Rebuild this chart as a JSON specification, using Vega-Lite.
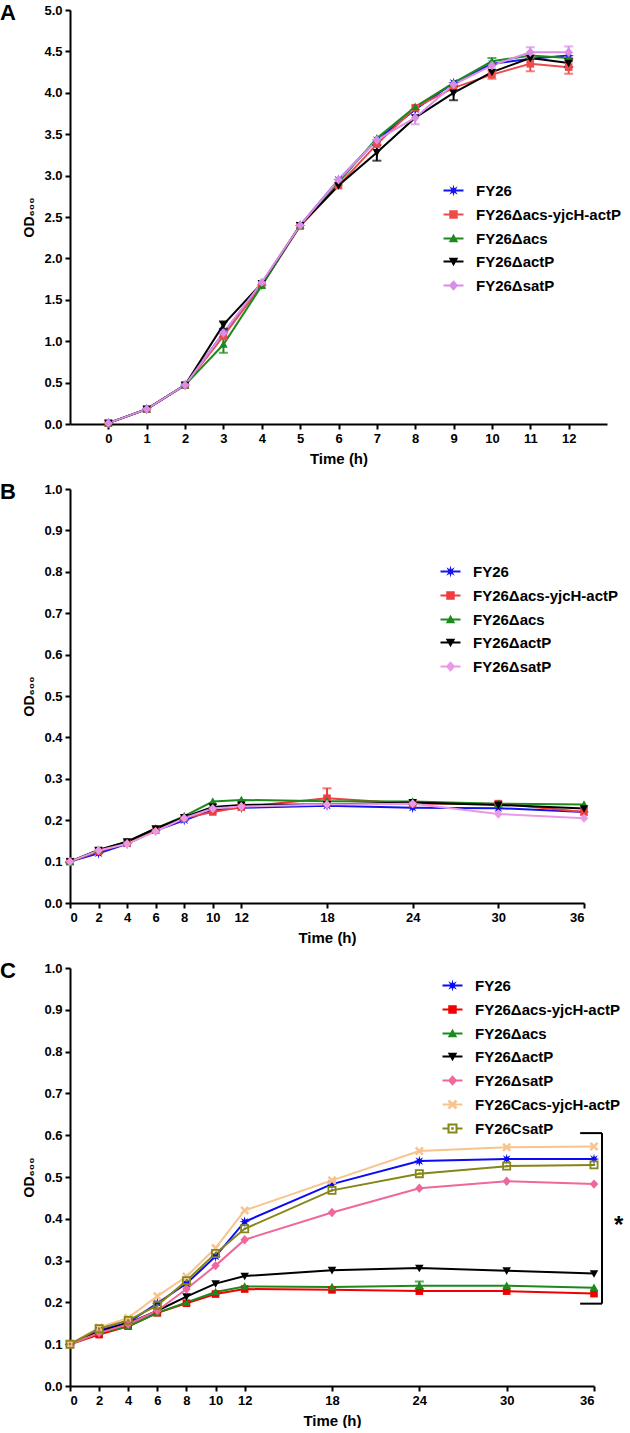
{
  "$schema": "https://vega.github.io/schema/vega-lite/v6.json",
  "background": "white",
  "padding": {"left": 0, "top": 2, "right": 0, "bottom": 0},
  "spacing": 15,
  "resolve": {"scale": {"fill": "independent", "stroke": "independent", "shape": "independent", "color": "independent", "x": "independent", "y": "independent"}, "legend": {"fill": "independent", "shape": "independent", "stroke": "independent", "color": "independent"}},
  "config": {
    "view": {"stroke": null},
    "font": "Liberation Sans",
    "axis": {"domainColor": "black", "domainWidth": 2, "tickColor": "black", "tickWidth": 2, "tickSize": 5, "labelFont": "Liberation Sans", "labelFontWeight": "bold", "labelFontSize": 13, "labelColor": "black", "labelPadding": 3, "titleFont": "Liberation Sans", "titleFontWeight": "bold", "titleFontSize": 15, "titleColor": "black", "grid": false},
    "axisX": {"titlePadding": 6},
    "axisY": {"titlePadding": 7, "titleFontSize": 14},
    "legend": {"labelFont": "Liberation Sans", "labelFontWeight": "bold", "labelFontSize": 15, "labelColor": "black", "symbolSize": 100, "labelOffset": 15, "rowPadding": 7, "padding": 0, "labelLimit": 300},
    "title": {"font": "Liberation Sans", "fontSize": 22, "fontWeight": "bold", "color": "black", "anchor": "start", "frame": "group", "dx": -70, "offset": -21}
  },
  "datasets": {
    "A": [
      {"strain": "FY26", "time": 0, "od": 0.01}, {"strain": "FY26", "time": 1, "od": 0.18}, {"strain": "FY26", "time": 2, "od": 0.47}, {"strain": "FY26", "time": 3, "od": 1.10}, {"strain": "FY26", "time": 4, "od": 1.68}, {"strain": "FY26", "time": 5, "od": 2.40}, {"strain": "FY26", "time": 6, "od": 2.95}, {"strain": "FY26", "time": 7, "od": 3.43}, {"strain": "FY26", "time": 8, "od": 3.80}, {"strain": "FY26", "time": 9, "od": 4.12}, {"strain": "FY26", "time": 10, "od": 4.35}, {"strain": "FY26", "time": 11, "od": 4.41}, {"strain": "FY26", "time": 12, "od": 4.45},
      {"strain": "FY26Δacs-yjcH-actP", "time": 0, "od": 0.01}, {"strain": "FY26Δacs-yjcH-actP", "time": 1, "od": 0.18}, {"strain": "FY26Δacs-yjcH-actP", "time": 2, "od": 0.47}, {"strain": "FY26Δacs-yjcH-actP", "time": 3, "od": 1.06}, {"strain": "FY26Δacs-yjcH-actP", "time": 4, "od": 1.68}, {"strain": "FY26Δacs-yjcH-actP", "time": 5, "od": 2.39}, {"strain": "FY26Δacs-yjcH-actP", "time": 6, "od": 2.88}, {"strain": "FY26Δacs-yjcH-actP", "time": 7, "od": 3.38}, {"strain": "FY26Δacs-yjcH-actP", "time": 8, "od": 3.82}, {"strain": "FY26Δacs-yjcH-actP", "time": 9, "od": 4.06}, {"strain": "FY26Δacs-yjcH-actP", "time": 10, "od": 4.22}, {"strain": "FY26Δacs-yjcH-actP", "time": 11, "od": 4.35}, {"strain": "FY26Δacs-yjcH-actP", "time": 12, "od": 4.31},
      {"strain": "FY26Δacs", "time": 0, "od": 0.01}, {"strain": "FY26Δacs", "time": 1, "od": 0.18}, {"strain": "FY26Δacs", "time": 2, "od": 0.47}, {"strain": "FY26Δacs", "time": 3, "od": 0.96}, {"strain": "FY26Δacs", "time": 4, "od": 1.67}, {"strain": "FY26Δacs", "time": 5, "od": 2.40}, {"strain": "FY26Δacs", "time": 6, "od": 2.92}, {"strain": "FY26Δacs", "time": 7, "od": 3.45}, {"strain": "FY26Δacs", "time": 8, "od": 3.83}, {"strain": "FY26Δacs", "time": 9, "od": 4.12}, {"strain": "FY26Δacs", "time": 10, "od": 4.38}, {"strain": "FY26Δacs", "time": 11, "od": 4.45}, {"strain": "FY26Δacs", "time": 12, "od": 4.42},
      {"strain": "FY26ΔactP", "time": 0, "od": 0.01}, {"strain": "FY26ΔactP", "time": 1, "od": 0.18}, {"strain": "FY26ΔactP", "time": 2, "od": 0.47}, {"strain": "FY26ΔactP", "time": 3, "od": 1.20}, {"strain": "FY26ΔactP", "time": 4, "od": 1.70}, {"strain": "FY26ΔactP", "time": 5, "od": 2.40}, {"strain": "FY26ΔactP", "time": 6, "od": 2.88}, {"strain": "FY26ΔactP", "time": 7, "od": 3.28}, {"strain": "FY26ΔactP", "time": 8, "od": 3.70}, {"strain": "FY26ΔactP", "time": 9, "od": 4.00}, {"strain": "FY26ΔactP", "time": 10, "od": 4.25}, {"strain": "FY26ΔactP", "time": 11, "od": 4.42}, {"strain": "FY26ΔactP", "time": 12, "od": 4.36},
      {"strain": "FY26ΔsatP", "time": 0, "od": 0.01}, {"strain": "FY26ΔsatP", "time": 1, "od": 0.18}, {"strain": "FY26ΔsatP", "time": 2, "od": 0.47}, {"strain": "FY26ΔsatP", "time": 3, "od": 1.10}, {"strain": "FY26ΔsatP", "time": 4, "od": 1.71}, {"strain": "FY26ΔsatP", "time": 5, "od": 2.40}, {"strain": "FY26ΔsatP", "time": 6, "od": 2.95}, {"strain": "FY26ΔsatP", "time": 7, "od": 3.43}, {"strain": "FY26ΔsatP", "time": 8, "od": 3.70}, {"strain": "FY26ΔsatP", "time": 9, "od": 4.10}, {"strain": "FY26ΔsatP", "time": 10, "od": 4.33}, {"strain": "FY26ΔsatP", "time": 11, "od": 4.49}, {"strain": "FY26ΔsatP", "time": 12, "od": 4.49}
    ],
    "Aerr": [
      {"strain": "FY26Δacs", "time": 3, "lo": 0.86, "hi": 1.05},
      {"strain": "FY26ΔactP", "time": 3, "lo": 1.15, "hi": 1.24},
      {"strain": "FY26ΔactP", "time": 7, "lo": 3.18, "hi": 3.37},
      {"strain": "FY26ΔactP", "time": 9, "lo": 3.91, "hi": 4.08},
      {"strain": "FY26ΔsatP", "time": 8, "lo": 3.62, "hi": 3.78},
      {"strain": "FY26Δacs-yjcH-actP", "time": 10, "lo": 4.17, "hi": 4.27},
      {"strain": "FY26Δacs-yjcH-actP", "time": 11, "lo": 4.26, "hi": 4.43},
      {"strain": "FY26Δacs-yjcH-actP", "time": 12, "lo": 4.23, "hi": 4.38},
      {"strain": "FY26ΔactP", "time": 12, "lo": 4.31, "hi": 4.41},
      {"strain": "FY26Δacs", "time": 10, "lo": 4.34, "hi": 4.42},
      {"strain": "FY26ΔsatP", "time": 11, "lo": 4.43, "hi": 4.55},
      {"strain": "FY26ΔsatP", "time": 12, "lo": 4.43, "hi": 4.56}
    ],
    "B": [
      {"strain": "FY26", "time": 0, "od": 0.100}, {"strain": "FY26", "time": 2, "od": 0.120}, {"strain": "FY26", "time": 4, "od": 0.143}, {"strain": "FY26", "time": 6, "od": 0.175}, {"strain": "FY26", "time": 8, "od": 0.200}, {"strain": "FY26", "time": 10, "od": 0.225}, {"strain": "FY26", "time": 12, "od": 0.230}, {"strain": "FY26", "time": 18, "od": 0.235}, {"strain": "FY26", "time": 24, "od": 0.230}, {"strain": "FY26", "time": 30, "od": 0.229}, {"strain": "FY26", "time": 36, "od": 0.220},
      {"strain": "FY26Δacs-yjcH-actP", "time": 0, "od": 0.100}, {"strain": "FY26Δacs-yjcH-actP", "time": 2, "od": 0.125}, {"strain": "FY26Δacs-yjcH-actP", "time": 4, "od": 0.145}, {"strain": "FY26Δacs-yjcH-actP", "time": 6, "od": 0.176}, {"strain": "FY26Δacs-yjcH-actP", "time": 8, "od": 0.205}, {"strain": "FY26Δacs-yjcH-actP", "time": 10, "od": 0.220}, {"strain": "FY26Δacs-yjcH-actP", "time": 12, "od": 0.232}, {"strain": "FY26Δacs-yjcH-actP", "time": 18, "od": 0.253}, {"strain": "FY26Δacs-yjcH-actP", "time": 24, "od": 0.240}, {"strain": "FY26Δacs-yjcH-actP", "time": 30, "od": 0.240}, {"strain": "FY26Δacs-yjcH-actP", "time": 36, "od": 0.220},
      {"strain": "FY26Δacs", "time": 0, "od": 0.100}, {"strain": "FY26Δacs", "time": 2, "od": 0.128}, {"strain": "FY26Δacs", "time": 4, "od": 0.148}, {"strain": "FY26Δacs", "time": 6, "od": 0.180}, {"strain": "FY26Δacs", "time": 8, "od": 0.210}, {"strain": "FY26Δacs", "time": 10, "od": 0.245}, {"strain": "FY26Δacs", "time": 12, "od": 0.249}, {"strain": "FY26Δacs", "time": 18, "od": 0.246}, {"strain": "FY26Δacs", "time": 24, "od": 0.245}, {"strain": "FY26Δacs", "time": 30, "od": 0.240}, {"strain": "FY26Δacs", "time": 36, "od": 0.238},
      {"strain": "FY26ΔactP", "time": 0, "od": 0.100}, {"strain": "FY26ΔactP", "time": 2, "od": 0.128}, {"strain": "FY26ΔactP", "time": 4, "od": 0.148}, {"strain": "FY26ΔactP", "time": 6, "od": 0.180}, {"strain": "FY26ΔactP", "time": 8, "od": 0.207}, {"strain": "FY26ΔactP", "time": 10, "od": 0.232}, {"strain": "FY26ΔactP", "time": 12, "od": 0.237}, {"strain": "FY26ΔactP", "time": 18, "od": 0.238}, {"strain": "FY26ΔactP", "time": 24, "od": 0.243}, {"strain": "FY26ΔactP", "time": 30, "od": 0.237}, {"strain": "FY26ΔactP", "time": 36, "od": 0.228},
      {"strain": "FY26ΔsatP", "time": 0, "od": 0.100}, {"strain": "FY26ΔsatP", "time": 2, "od": 0.127}, {"strain": "FY26ΔsatP", "time": 4, "od": 0.143}, {"strain": "FY26ΔsatP", "time": 6, "od": 0.173}, {"strain": "FY26ΔsatP", "time": 8, "od": 0.205}, {"strain": "FY26ΔsatP", "time": 10, "od": 0.228}, {"strain": "FY26ΔsatP", "time": 12, "od": 0.233}, {"strain": "FY26ΔsatP", "time": 18, "od": 0.238}, {"strain": "FY26ΔsatP", "time": 24, "od": 0.240}, {"strain": "FY26ΔsatP", "time": 30, "od": 0.215}, {"strain": "FY26ΔsatP", "time": 36, "od": 0.205}
    ],
    "Berr": [
      {"strain": "FY26Δacs-yjcH-actP", "time": 18, "lo": 0.235, "hi": 0.277}
    ],
    "C": [
      {"strain": "FY26", "time": 0, "od": 0.100}, {"strain": "FY26", "time": 2, "od": 0.133}, {"strain": "FY26", "time": 4, "od": 0.152}, {"strain": "FY26", "time": 6, "od": 0.198}, {"strain": "FY26", "time": 8, "od": 0.245}, {"strain": "FY26", "time": 10, "od": 0.310}, {"strain": "FY26", "time": 12, "od": 0.393}, {"strain": "FY26", "time": 18, "od": 0.483}, {"strain": "FY26", "time": 24, "od": 0.538}, {"strain": "FY26", "time": 30, "od": 0.543}, {"strain": "FY26", "time": 36, "od": 0.543},
      {"strain": "FY26Δacs-yjcH-actP", "time": 0, "od": 0.100}, {"strain": "FY26Δacs-yjcH-actP", "time": 2, "od": 0.123}, {"strain": "FY26Δacs-yjcH-actP", "time": 4, "od": 0.143}, {"strain": "FY26Δacs-yjcH-actP", "time": 6, "od": 0.175}, {"strain": "FY26Δacs-yjcH-actP", "time": 8, "od": 0.198}, {"strain": "FY26Δacs-yjcH-actP", "time": 10, "od": 0.220}, {"strain": "FY26Δacs-yjcH-actP", "time": 12, "od": 0.232}, {"strain": "FY26Δacs-yjcH-actP", "time": 18, "od": 0.230}, {"strain": "FY26Δacs-yjcH-actP", "time": 24, "od": 0.227}, {"strain": "FY26Δacs-yjcH-actP", "time": 30, "od": 0.227}, {"strain": "FY26Δacs-yjcH-actP", "time": 36, "od": 0.221},
      {"strain": "FY26Δacs", "time": 0, "od": 0.100}, {"strain": "FY26Δacs", "time": 2, "od": 0.128}, {"strain": "FY26Δacs", "time": 4, "od": 0.142}, {"strain": "FY26Δacs", "time": 6, "od": 0.175}, {"strain": "FY26Δacs", "time": 8, "od": 0.200}, {"strain": "FY26Δacs", "time": 10, "od": 0.225}, {"strain": "FY26Δacs", "time": 12, "od": 0.238}, {"strain": "FY26Δacs", "time": 18, "od": 0.237}, {"strain": "FY26Δacs", "time": 24, "od": 0.240}, {"strain": "FY26Δacs", "time": 30, "od": 0.240}, {"strain": "FY26Δacs", "time": 36, "od": 0.235},
      {"strain": "FY26ΔactP", "time": 0, "od": 0.100}, {"strain": "FY26ΔactP", "time": 2, "od": 0.130}, {"strain": "FY26ΔactP", "time": 4, "od": 0.150}, {"strain": "FY26ΔactP", "time": 6, "od": 0.180}, {"strain": "FY26ΔactP", "time": 8, "od": 0.214}, {"strain": "FY26ΔactP", "time": 10, "od": 0.245}, {"strain": "FY26ΔactP", "time": 12, "od": 0.263}, {"strain": "FY26ΔactP", "time": 18, "od": 0.277}, {"strain": "FY26ΔactP", "time": 24, "od": 0.282}, {"strain": "FY26ΔactP", "time": 30, "od": 0.276}, {"strain": "FY26ΔactP", "time": 36, "od": 0.269},
      {"strain": "FY26ΔsatP", "time": 0, "od": 0.100}, {"strain": "FY26ΔsatP", "time": 2, "od": 0.127}, {"strain": "FY26ΔsatP", "time": 4, "od": 0.148}, {"strain": "FY26ΔsatP", "time": 6, "od": 0.180}, {"strain": "FY26ΔsatP", "time": 8, "od": 0.232}, {"strain": "FY26ΔsatP", "time": 10, "od": 0.288}, {"strain": "FY26ΔsatP", "time": 12, "od": 0.350}, {"strain": "FY26ΔsatP", "time": 18, "od": 0.415}, {"strain": "FY26ΔsatP", "time": 24, "od": 0.473}, {"strain": "FY26ΔsatP", "time": 30, "od": 0.490}, {"strain": "FY26ΔsatP", "time": 36, "od": 0.483},
      {"strain": "FY26Cacs-yjcH-actP", "time": 0, "od": 0.100}, {"strain": "FY26Cacs-yjcH-actP", "time": 2, "od": 0.140}, {"strain": "FY26Cacs-yjcH-actP", "time": 4, "od": 0.163}, {"strain": "FY26Cacs-yjcH-actP", "time": 6, "od": 0.215}, {"strain": "FY26Cacs-yjcH-actP", "time": 8, "od": 0.262}, {"strain": "FY26Cacs-yjcH-actP", "time": 10, "od": 0.330}, {"strain": "FY26Cacs-yjcH-actP", "time": 12, "od": 0.420}, {"strain": "FY26Cacs-yjcH-actP", "time": 18, "od": 0.492}, {"strain": "FY26Cacs-yjcH-actP", "time": 24, "od": 0.562}, {"strain": "FY26Cacs-yjcH-actP", "time": 30, "od": 0.571}, {"strain": "FY26Cacs-yjcH-actP", "time": 36, "od": 0.573},
      {"strain": "FY26CsatP", "time": 0, "od": 0.100}, {"strain": "FY26CsatP", "time": 2, "od": 0.137}, {"strain": "FY26CsatP", "time": 4, "od": 0.157}, {"strain": "FY26CsatP", "time": 6, "od": 0.193}, {"strain": "FY26CsatP", "time": 8, "od": 0.252}, {"strain": "FY26CsatP", "time": 10, "od": 0.317}, {"strain": "FY26CsatP", "time": 12, "od": 0.376}, {"strain": "FY26CsatP", "time": 18, "od": 0.468}, {"strain": "FY26CsatP", "time": 24, "od": 0.508}, {"strain": "FY26CsatP", "time": 30, "od": 0.526}, {"strain": "FY26CsatP", "time": 36, "od": 0.529}
    ],
    "Cerr": [
      {"strain": "FY26Δacs", "time": 24, "lo": 0.232, "hi": 0.250}
    ],
    "bracket": [
      {"x1": 35.05, "x2": 36.55, "y1": 0.605, "y2": 0.605},
      {"x1": 35.05, "x2": 36.55, "y1": 0.197, "y2": 0.197},
      {"x1": 36.55, "x2": 36.55, "y1": 0.197, "y2": 0.605}
    ],
    "star": [
      {"x": 37.7, "y": 0.397, "label": "*"}
    ]
  },
  "vconcat": [
    {
      "title": {"text": "A"},
      "width": 537,
      "height": 414,
      "resolve": {"scale": {"fill": "independent", "shape": "independent"}},
      "layer": [
        {
          "data": {"name": "A"},
          "mark": {"type": "line", "strokeWidth": 2},
          "encoding": {
            "x": {"field": "time", "type": "quantitative", "scale": {"domain": [-1, 13], "nice": false}, "axis": {"values": [0,1,2,3,4,5,6,7,8,9,10,11,12], "format": "d"}, "title": "Time (h)"},
            "y": {"field": "od", "type": "quantitative", "scale": {"domain": [0, 5], "nice": false}, "axis": {"values": [0,0.5,1,1.5,2,2.5,3,3.5,4,4.5,5], "format": ".1f"}, "title": "OD₆₀₀"},
            "stroke": {"field": "strain", "type": "nominal", "scale": {"domain": ["FY26","FY26Δacs-yjcH-actP","FY26Δacs","FY26ΔactP","FY26ΔsatP"], "range": ["#1414f0","#f04b4b","#1e8a1e","#000000","#d98ce8"]}, "legend": null}
          }
        },
        {
          "data": {"name": "Aerr"},
          "mark": {"type": "errorbar", "thickness": 2, "ticks": {"size": 9, "thickness": 2}},
          "encoding": {
            "x": {"field": "time", "type": "quantitative", "title": "Time (h)"},
            "y": {"field": "lo", "type": "quantitative", "title": "OD₆₀₀"},
            "y2": {"field": "hi"},
            "color": {"field": "strain", "type": "nominal", "scale": {"domain": ["FY26","FY26Δacs-yjcH-actP","FY26Δacs","FY26ΔactP","FY26ΔsatP"], "range": ["#1414f0","#f04b4b","#1e8a1e","#000000","#d98ce8"]}, "legend": null}
          }
        },
        {
          "data": {"name": "A"},
          "mark": {"type": "point", "filled": true, "size": 80, "opacity": 1},
          "encoding": {
            "x": {"field": "time", "type": "quantitative", "title": "Time (h)"},
            "y": {"field": "od", "type": "quantitative", "title": "OD₆₀₀"},
            "fill": {"field": "strain", "type": "nominal", "scale": {"domain": ["FY26","FY26Δacs-yjcH-actP","FY26Δacs","FY26ΔactP","FY26ΔsatP"], "range": ["#1414f0","#f04b4b","#1e8a1e","#000000","#d98ce8"]}, "legend": null},
            "shape": {"field": "strain", "type": "nominal", "scale": {"domain": ["FY26","FY26Δacs-yjcH-actP","FY26Δacs","FY26ΔactP","FY26ΔsatP"], "range": ["M0,-1.2L0.19,-0.46L0.85,-0.85L0.46,-0.19L1.2,0L0.46,0.19L0.85,0.85L0.19,0.46L0,1.2L-0.19,0.46L-0.85,0.85L-0.46,0.19L-1.2,0L-0.46,-0.19L-0.85,-0.85L-0.19,-0.46Z","M-0.85,-0.85L0.85,-0.85L0.85,0.85L-0.85,0.85Z","M0,-0.95L0.95,0.75L-0.95,0.75Z","M0,0.95L-0.95,-0.75L0.95,-0.75Z","M0,-1.05L0.95,0L0,1.05L-0.95,0Z"]}, "legend": null}
          }
        },
        {
          "data": {"values": []},
          "mark": {"type": "point", "filled": true, "size": 100, "opacity": 1},
          "encoding": {
            "x": {"field": "time", "type": "quantitative", "title": "Time (h)"},
            "y": {"field": "od", "type": "quantitative", "title": "OD₆₀₀"},
            "fill": {"field": "strain", "type": "nominal", "scale": {"domain": ["FY26","FY26Δacs-yjcH-actP","FY26Δacs","FY26ΔactP","FY26ΔsatP"], "range": ["#1414f0","#f04b4b","#1e8a1e","#000000","#d98ce8"]}, "legend": {"title": null, "orient": "none", "legendX": 376, "legendY": 173}},
            "shape": {"field": "strain", "type": "nominal", "scale": {"domain": ["FY26","FY26Δacs-yjcH-actP","FY26Δacs","FY26ΔactP","FY26ΔsatP"], "range": ["M0,-1.2L0.19,-0.46L0.85,-0.85L0.46,-0.19L1.2,0L0.46,0.19L0.85,0.85L0.19,0.46L0,1.2L-0.19,0.46L-0.85,0.85L-0.46,0.19L-1.2,0L-0.46,-0.19L-0.85,-0.85L-0.19,-0.46Z M-2,-0.2L2,-0.2L2,0.2L-2,0.2Z","M-0.85,-0.85L0.85,-0.85L0.85,0.85L-0.85,0.85Z M-2,-0.2L2,-0.2L2,0.2L-2,0.2Z","M0,-0.95L0.95,0.75L-0.95,0.75Z M-2,-0.2L2,-0.2L2,0.2L-2,0.2Z","M0,0.95L-0.95,-0.75L0.95,-0.75Z M-2,-0.2L2,-0.2L2,0.2L-2,0.2Z","M0,-1.05L0.95,0L0,1.05L-0.95,0Z M-2,-0.2L2,-0.2L2,0.2L-2,0.2Z"]}, "legend": {"title": null, "orient": "none", "legendX": 376, "legendY": 173}}
          }
        }
      ]
    },
    {
      "title": {"text": "B"},
      "width": 514,
      "height": 414,
      "resolve": {"scale": {"fill": "independent", "shape": "independent"}},
      "layer": [
        {
          "data": {"name": "B"},
          "mark": {"type": "line", "strokeWidth": 2},
          "encoding": {
            "x": {"field": "time", "type": "quantitative", "scale": {"domain": [0, 36], "nice": false}, "axis": {"values": [0,2,4,6,8,10,12,18,24,30,36], "format": "d"}, "title": "Time (h)"},
            "y": {"field": "od", "type": "quantitative", "scale": {"domain": [0, 1], "nice": false}, "axis": {"values": [0,0.1,0.2,0.3,0.4,0.5,0.6,0.7,0.8,0.9,1], "format": ".1f"}, "title": "OD₆₀₀"},
            "stroke": {"field": "strain", "type": "nominal", "scale": {"domain": ["FY26","FY26Δacs-yjcH-actP","FY26Δacs","FY26ΔactP","FY26ΔsatP"], "range": ["#1414f0","#f03c3c","#1e8a1e","#000000","#e99ae6"]}, "legend": null}
          }
        },
        {
          "data": {"name": "Berr"},
          "mark": {"type": "errorbar", "thickness": 2, "ticks": {"size": 9, "thickness": 2}},
          "encoding": {
            "x": {"field": "time", "type": "quantitative", "title": "Time (h)"},
            "y": {"field": "lo", "type": "quantitative", "title": "OD₆₀₀"},
            "y2": {"field": "hi"},
            "color": {"field": "strain", "type": "nominal", "scale": {"domain": ["FY26","FY26Δacs-yjcH-actP","FY26Δacs","FY26ΔactP","FY26ΔsatP"], "range": ["#1414f0","#f03c3c","#1e8a1e","#000000","#e99ae6"]}, "legend": null}
          }
        },
        {
          "data": {"name": "B"},
          "mark": {"type": "point", "filled": true, "size": 80, "opacity": 1},
          "encoding": {
            "x": {"field": "time", "type": "quantitative", "title": "Time (h)"},
            "y": {"field": "od", "type": "quantitative", "title": "OD₆₀₀"},
            "fill": {"field": "strain", "type": "nominal", "scale": {"domain": ["FY26","FY26Δacs-yjcH-actP","FY26Δacs","FY26ΔactP","FY26ΔsatP"], "range": ["#1414f0","#f03c3c","#1e8a1e","#000000","#e99ae6"]}, "legend": null},
            "shape": {"field": "strain", "type": "nominal", "scale": {"domain": ["FY26","FY26Δacs-yjcH-actP","FY26Δacs","FY26ΔactP","FY26ΔsatP"], "range": ["M0,-1.2L0.19,-0.46L0.85,-0.85L0.46,-0.19L1.2,0L0.46,0.19L0.85,0.85L0.19,0.46L0,1.2L-0.19,0.46L-0.85,0.85L-0.46,0.19L-1.2,0L-0.46,-0.19L-0.85,-0.85L-0.19,-0.46Z","M-0.85,-0.85L0.85,-0.85L0.85,0.85L-0.85,0.85Z","M0,-0.95L0.95,0.75L-0.95,0.75Z","M0,0.95L-0.95,-0.75L0.95,-0.75Z","M0,-1.05L0.95,0L0,1.05L-0.95,0Z"]}, "legend": null}
          }
        },
        {
          "data": {"values": []},
          "mark": {"type": "point", "filled": true, "size": 100, "opacity": 1},
          "encoding": {
            "x": {"field": "time", "type": "quantitative", "title": "Time (h)"},
            "y": {"field": "od", "type": "quantitative", "title": "OD₆₀₀"},
            "fill": {"field": "strain", "type": "nominal", "scale": {"domain": ["FY26","FY26Δacs-yjcH-actP","FY26Δacs","FY26ΔactP","FY26ΔsatP"], "range": ["#1414f0","#f03c3c","#1e8a1e","#000000","#e99ae6"]}, "legend": {"title": null, "orient": "none", "legendX": 373, "legendY": 75}},
            "shape": {"field": "strain", "type": "nominal", "scale": {"domain": ["FY26","FY26Δacs-yjcH-actP","FY26Δacs","FY26ΔactP","FY26ΔsatP"], "range": ["M0,-1.2L0.19,-0.46L0.85,-0.85L0.46,-0.19L1.2,0L0.46,0.19L0.85,0.85L0.19,0.46L0,1.2L-0.19,0.46L-0.85,0.85L-0.46,0.19L-1.2,0L-0.46,-0.19L-0.85,-0.85L-0.19,-0.46Z M-2,-0.2L2,-0.2L2,0.2L-2,0.2Z","M-0.85,-0.85L0.85,-0.85L0.85,0.85L-0.85,0.85Z M-2,-0.2L2,-0.2L2,0.2L-2,0.2Z","M0,-0.95L0.95,0.75L-0.95,0.75Z M-2,-0.2L2,-0.2L2,0.2L-2,0.2Z","M0,0.95L-0.95,-0.75L0.95,-0.75Z M-2,-0.2L2,-0.2L2,0.2L-2,0.2Z","M0,-1.05L0.95,0L0,1.05L-0.95,0Z M-2,-0.2L2,-0.2L2,0.2L-2,0.2Z"]}, "legend": {"title": null, "orient": "none", "legendX": 373, "legendY": 75}}
          }
        }
      ]
    },
    {
      "title": {"text": "C"},
      "width": 524,
      "height": 418,
      "resolve": {"scale": {"fill": "independent", "shape": "independent"}},
      "layer": [
        {
          "data": {"name": "C"},
          "mark": {"type": "line", "strokeWidth": 2},
          "encoding": {
            "x": {"field": "time", "type": "quantitative", "scale": {"domain": [0, 36], "nice": false}, "axis": {"values": [0,2,4,6,8,10,12,18,24,30,36], "format": "d"}, "title": "Time (h)"},
            "y": {"field": "od", "type": "quantitative", "scale": {"domain": [0, 1], "nice": false}, "axis": {"values": [0,0.1,0.2,0.3,0.4,0.5,0.6,0.7,0.8,0.9,1], "format": ".1f"}, "title": "OD₆₀₀"},
            "stroke": {"field": "strain", "type": "nominal", "scale": {"domain": ["FY26","FY26Δacs-yjcH-actP","FY26Δacs","FY26ΔactP","FY26ΔsatP","FY26Cacs-yjcH-actP","FY26CsatP"], "range": ["#0a0af5","#f00000","#1e8a1e","#000000","#f0679b","#f9c38e","#85851a"]}, "legend": null}
          }
        },
        {
          "data": {"name": "Cerr"},
          "mark": {"type": "errorbar", "thickness": 2, "ticks": {"size": 9, "thickness": 2}},
          "encoding": {
            "x": {"field": "time", "type": "quantitative", "title": "Time (h)"},
            "y": {"field": "lo", "type": "quantitative", "title": "OD₆₀₀"},
            "y2": {"field": "hi"},
            "color": {"field": "strain", "type": "nominal", "scale": {"domain": ["FY26","FY26Δacs-yjcH-actP","FY26Δacs","FY26ΔactP","FY26ΔsatP","FY26Cacs-yjcH-actP","FY26CsatP"], "range": ["#0a0af5","#f00000","#1e8a1e","#000000","#f0679b","#f9c38e","#85851a"]}, "legend": null}
          }
        },
        {
          "data": {"name": "C"},
          "mark": {"type": "point", "filled": true, "size": 80, "opacity": 1},
          "encoding": {
            "x": {"field": "time", "type": "quantitative", "title": "Time (h)"},
            "y": {"field": "od", "type": "quantitative", "title": "OD₆₀₀"},
            "fill": {"field": "strain", "type": "nominal", "scale": {"domain": ["FY26","FY26Δacs-yjcH-actP","FY26Δacs","FY26ΔactP","FY26ΔsatP","FY26Cacs-yjcH-actP","FY26CsatP"], "range": ["#0a0af5","#f00000","#1e8a1e","#000000","#f0679b","#f9c38e","#85851a"]}, "legend": null},
            "shape": {"field": "strain", "type": "nominal", "scale": {"domain": ["FY26","FY26Δacs-yjcH-actP","FY26Δacs","FY26ΔactP","FY26ΔsatP","FY26Cacs-yjcH-actP","FY26CsatP"], "range": ["M0,-1.2L0.19,-0.46L0.85,-0.85L0.46,-0.19L1.2,0L0.46,0.19L0.85,0.85L0.19,0.46L0,1.2L-0.19,0.46L-0.85,0.85L-0.46,0.19L-1.2,0L-0.46,-0.19L-0.85,-0.85L-0.19,-0.46Z","M-0.85,-0.85L0.85,-0.85L0.85,0.85L-0.85,0.85Z","M0,-0.95L0.95,0.75L-0.95,0.75Z","M0,0.95L-0.95,-0.75L0.95,-0.75Z","M0,-1.05L0.95,0L0,1.05L-0.95,0Z","M-1,-0.6L-0.6,-1L0,-0.4L0.6,-1L1,-0.6L0.4,0L1,0.6L0.6,1L0,0.4L-0.6,1L-1,0.6L-0.4,0Z","M-1,-1L1,-1L1,1L-1,1Z M-0.6,-0.6L-0.6,0.6L0.6,0.6L0.6,-0.6Z M-0.25,-0.25L0.25,-0.25L0.25,0.25L-0.25,0.25Z"]}, "legend": null}
          }
        },
        {
          "data": {"values": []},
          "mark": {"type": "point", "filled": true, "size": 100, "opacity": 1},
          "encoding": {
            "x": {"field": "time", "type": "quantitative", "title": "Time (h)"},
            "y": {"field": "od", "type": "quantitative", "title": "OD₆₀₀"},
            "fill": {"field": "strain", "type": "nominal", "scale": {"domain": ["FY26","FY26Δacs-yjcH-actP","FY26Δacs","FY26ΔactP","FY26ΔsatP","FY26Cacs-yjcH-actP","FY26CsatP"], "range": ["#0a0af5","#f00000","#1e8a1e","#000000","#f0679b","#f9c38e","#85851a"]}, "legend": {"title": null, "orient": "none", "legendX": 375, "legendY": 10}},
            "shape": {"field": "strain", "type": "nominal", "scale": {"domain": ["FY26","FY26Δacs-yjcH-actP","FY26Δacs","FY26ΔactP","FY26ΔsatP","FY26Cacs-yjcH-actP","FY26CsatP"], "range": ["M0,-1.2L0.19,-0.46L0.85,-0.85L0.46,-0.19L1.2,0L0.46,0.19L0.85,0.85L0.19,0.46L0,1.2L-0.19,0.46L-0.85,0.85L-0.46,0.19L-1.2,0L-0.46,-0.19L-0.85,-0.85L-0.19,-0.46Z M-2,-0.2L2,-0.2L2,0.2L-2,0.2Z","M-0.85,-0.85L0.85,-0.85L0.85,0.85L-0.85,0.85Z M-2,-0.2L2,-0.2L2,0.2L-2,0.2Z","M0,-0.95L0.95,0.75L-0.95,0.75Z M-2,-0.2L2,-0.2L2,0.2L-2,0.2Z","M0,0.95L-0.95,-0.75L0.95,-0.75Z M-2,-0.2L2,-0.2L2,0.2L-2,0.2Z","M0,-1.05L0.95,0L0,1.05L-0.95,0Z M-2,-0.2L2,-0.2L2,0.2L-2,0.2Z","M-1,-0.6L-0.6,-1L0,-0.4L0.6,-1L1,-0.6L0.4,0L1,0.6L0.6,1L0,0.4L-0.6,1L-1,0.6L-0.4,0Z M-2,-0.2L2,-0.2L2,0.2L-2,0.2Z","M-1,-1L1,-1L1,1L-1,1Z M-0.6,-0.6L-0.6,0.6L0.6,0.6L0.6,-0.6Z M-0.25,-0.25L0.25,-0.25L0.25,0.25L-0.25,0.25Z M-2,-0.2L-1,-0.2L-1,0.2L-2,0.2Z M1,-0.2L2,-0.2L2,0.2L1,0.2Z"]}, "legend": {"title": null, "orient": "none", "legendX": 375, "legendY": 10}}
          }
        },
        {
          "data": {"name": "bracket"},
          "mark": {"type": "rule", "color": "black", "strokeWidth": 2, "clip": false},
          "encoding": {
            "x": {"field": "x1", "type": "quantitative"},
            "x2": {"field": "x2"},
            "y": {"field": "y1", "type": "quantitative"},
            "y2": {"field": "y2"}
          }
        },
        {
          "data": {"name": "star"},
          "mark": {"type": "text", "fontSize": 24, "fontWeight": "bold", "font": "Liberation Sans", "color": "black", "baseline": "middle", "align": "center", "dy": 6},
          "encoding": {
            "x": {"field": "x", "type": "quantitative"},
            "y": {"field": "y", "type": "quantitative"},
            "text": {"field": "label"}
          }
        }
      ]
    }
  ]
}
